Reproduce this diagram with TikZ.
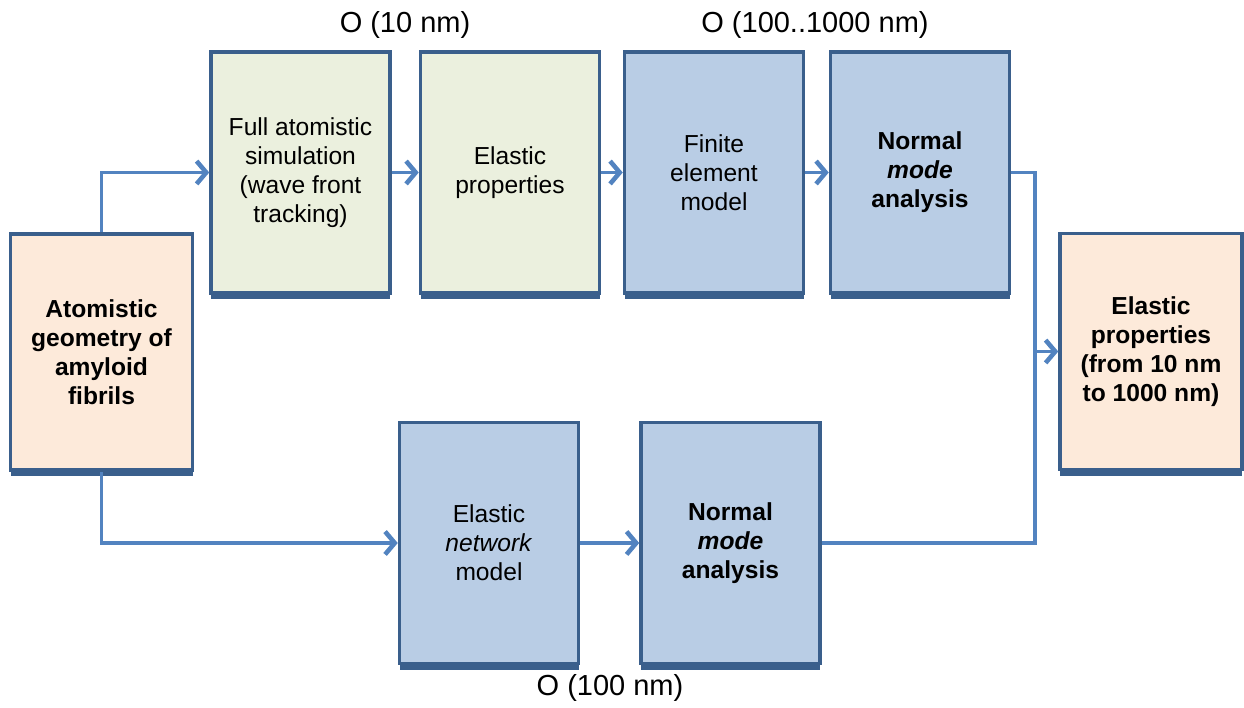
\documentclass[tikz,border=0pt]{standalone}
\usepackage{fontspec}
\setmainfont{Liberation Sans}
\usepackage{tikz}
\usetikzlibrary{arrows.meta,shadows,calc}
\definecolor{boxline}{HTML}{3A5F8C}
\definecolor{linkblue}{HTML}{5283C0}
\definecolor{greenfill}{HTML}{EBF0DE}
\definecolor{peachfill}{HTML}{FDEADA}
\definecolor{bluefill}{HTML}{B9CDE5}

\begin{document}
\begin{tikzpicture}[
  block/.style={draw=boxline, line width=2pt, minimum width=3.58cm, minimum height=4.82cm,
    align=center, font=\fontsize{14}{16.5}\selectfont, inner sep=2pt,
    drop shadow={shadow xshift=0pt, shadow yshift=-3.5pt, fill=boxline, opacity=1}},
  green/.style={block, fill=greenfill},
  peach/.style={block, fill=peachfill, minimum width=3.64cm, minimum height=4.72cm},
  blue/.style={block, fill=bluefill},
  sizelabel/.style={font=\fontsize{16.5}{19}\selectfont},
  link/.style={draw=linkblue, line width=1.8pt, -{Straight Barb[length=5.5pt,width=13pt,line width=2.6pt]}},
  wire/.style={draw=linkblue, line width=1.8pt}]
\useasboundingbox (0,0) rectangle (24.88,-14.14);

\node[peach] (atom) at (2.03,-7.04) {\textbf{Atomistic}\\\textbf{geometry of}\\\textbf{amyloid}\\\textbf{fibrils}};
\node[green] (full) at (6.01,-3.45) {Full atomistic\\simulation\\(wave front\\tracking)};
\node[green] (elprop) at (10.2,-3.45) {Elastic\\properties};
\node[blue] (fem) at (14.28,-3.45) {Finite\\element\\model};
\node[blue] (nmtop) at (18.4,-3.45) {\textbf{Normal}\\\textbf{\textit{mode}}\\\textbf{analysis}};
\node[blue] (enm) at (9.78,-10.86) {Elastic\\\textit{network}\\model};
\node[blue] (nmbot) at (14.61,-10.86) {\textbf{Normal}\\\textbf{\textit{mode}}\\\textbf{analysis}};
\node[peach] (result) at (23.02,-7.03) {\textbf{Elastic}\\\textbf{properties}\\\textbf{(from 10 nm}\\\textbf{to 1000 nm)}};

\node[sizelabel] (s10) at (8.1,-0.5) {O (10 nm)};
\node[sizelabel] (s1000) at (16.3,-0.5) {O (100..1000 nm)};
\node[sizelabel] (s100) at (12.2,-13.76) {O (100 nm)};

\coordinate (join) at (20.7,-7.03);

\draw[link] (atom.north) |- (full.west);
\draw[link] (atom.south) |- (enm.west);
\draw[link] (full) -- (elprop);
\draw[link] (elprop) -- (fem);
\draw[link] (fem) -- (nmtop);
\draw[link] (enm) -- (nmbot);
\draw[wire] (nmtop.east) -| (join);
\draw[wire] (nmbot.east) -| (join);
\draw[link] (join) -- (result.west);
\end{tikzpicture}
\end{document}
